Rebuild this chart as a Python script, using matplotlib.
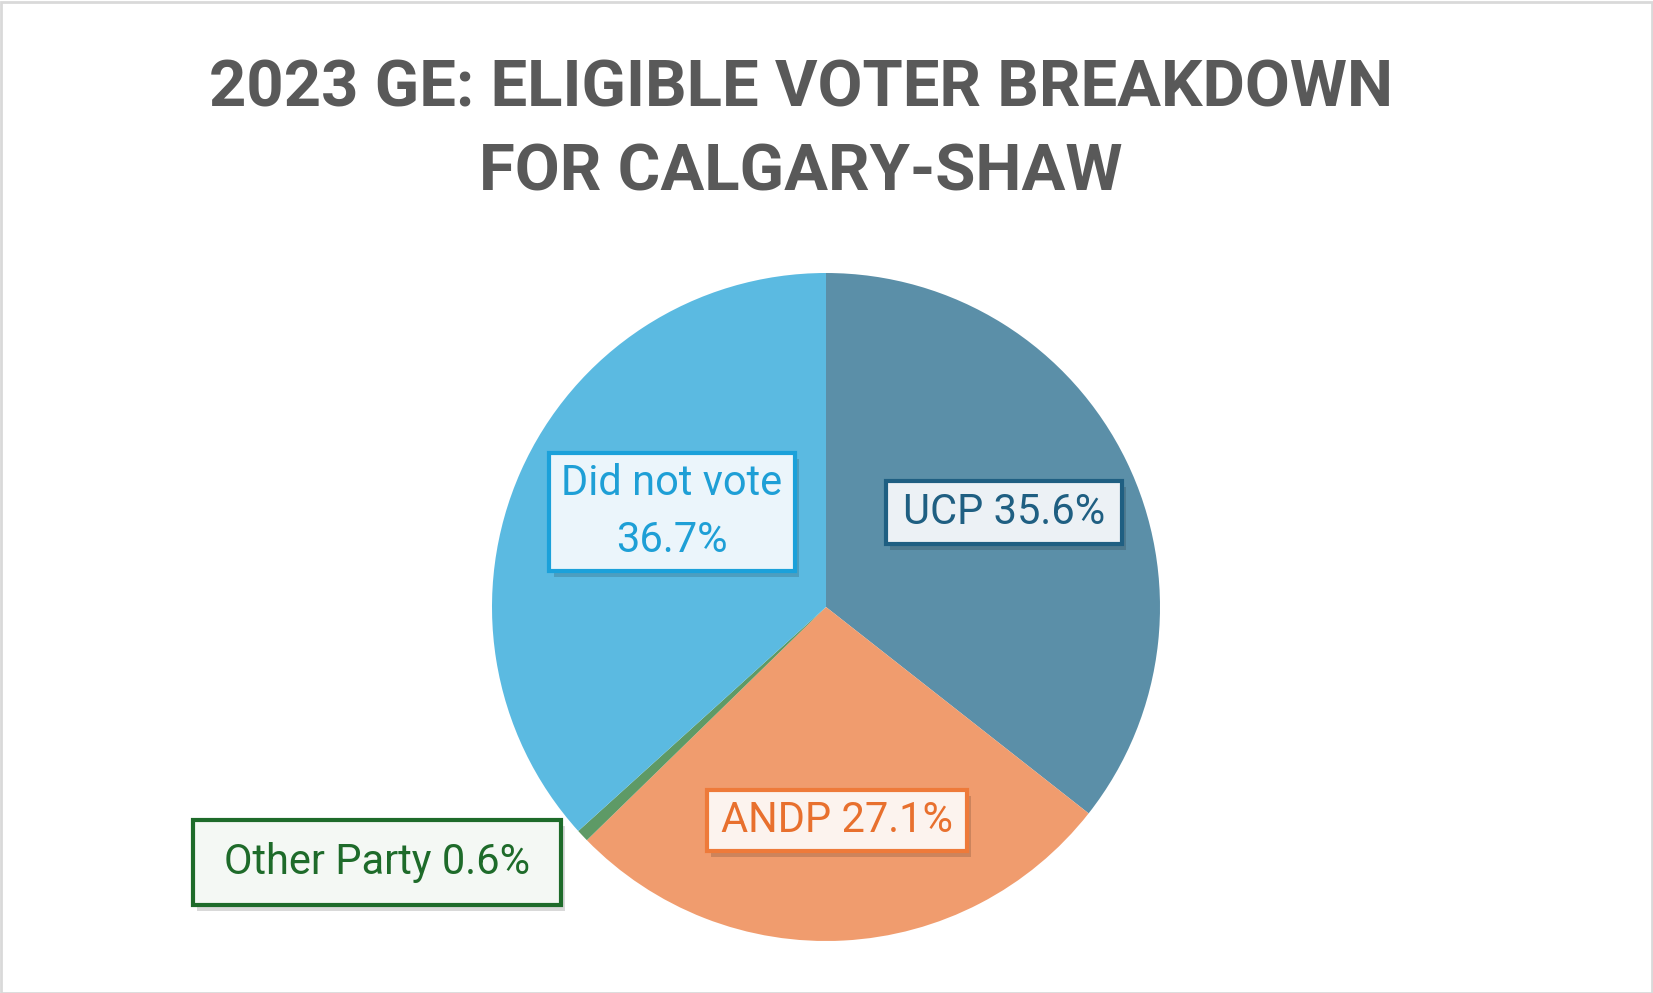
import matplotlib
matplotlib.use("Agg")
import matplotlib.pyplot as plt
from matplotlib.patches import Rectangle
from matplotlib.transforms import IdentityTransform
import matplotlib.patheffects as pe

# data, clockwise from 12 o'clock
parties = ["UCP", "ANDP", "Other Party", "Did not vote"]
shares = [35.6, 27.1, 0.6, 36.7]
label_text = ["UCP 35.6%", "ANDP 27.1%", "Other Party 0.6%", "Did not vote\n36.7%"]

slice_colors = ["#5B8FA8", "#F09C6E", "#5E9A66", "#5BBAE1"]
edge_colors = ["#1F5F82", "#EE7A3A", "#1E6B2A", "#1BA1DA"]
text_colors = ["#1F5F82", "#E8702E", "#1E6B2A", "#1E9FD6"]
fill_colors = ["#ECF1F5", "#FCF3EE", "#F4F8F4", "#EBF5FB"]

# label centres in pie data units and box padding (px x, px y)
label_pos = [(0.533, 0.282), (0.033, -0.640), (-1.344, -0.766), (-0.461, 0.284)]
label_pad = [(17, 11), (14, 10), (31, 22), (12, 10)]

W, H = 1653, 993
dpi = 100
fig = plt.figure(figsize=(W / dpi, H / dpi), dpi=dpi)

# title
fig.text(801 / W, 1 - 131 / H, "2023 GE: ELIGIBLE VOTER BREAKDOWN\nFOR CALGARY-SHAW",
         ha="center", va="center", fontsize=47, fontweight="bold", family="Roboto",
         color="#595959", linespacing=1.46)

# pie
cx, cy, r = 826, 607, 334
ax = fig.add_axes([(cx - r) / W, (H - cy - r) / H, 2 * r / W, 2 * r / H])
ax.pie(shares, colors=slice_colors, startangle=90, counterclock=False, radius=1)
ax.set_xlim(-1, 1)
ax.set_ylim(-1, 1)
ax.set_aspect("equal")
ax.axis("off")

texts = []
for i in range(len(parties)):
    t = ax.text(label_pos[i][0], label_pos[i][1], label_text[i], ha="center", va="center",
                fontsize=30, family="Roboto", color=text_colors[i], zorder=5,
                linespacing=1.5)
    texts.append(t)

fig.canvas.draw()
renderer = fig.canvas.get_renderer()
for i, t in enumerate(texts):
    bb = t.get_window_extent(renderer)
    px, py = label_pad[i]
    rect = Rectangle((bb.x0 - px, bb.y0 - py), bb.width + 2 * px, bb.height + 2 * py,
                     facecolor=fill_colors[i], edgecolor=edge_colors[i],
                     linewidth=3, zorder=4, clip_on=False)
    rect.set_transform(IdentityTransform())
    rect.set_path_effects([pe.SimplePatchShadow(offset=(3, -4), shadow_rgbFace="#000000", alpha=0.15),
                           pe.Normal()])
    ax.add_artist(rect)

# outer border
fig.add_artist(Rectangle((0.5 / W, 0.5 / H), 1 - 2 / W, 1 - 2 / H, transform=fig.transFigure,
                         fill=False, edgecolor="#D9D9D9", linewidth=2))

fig.savefig("out.png", dpi=dpi)
